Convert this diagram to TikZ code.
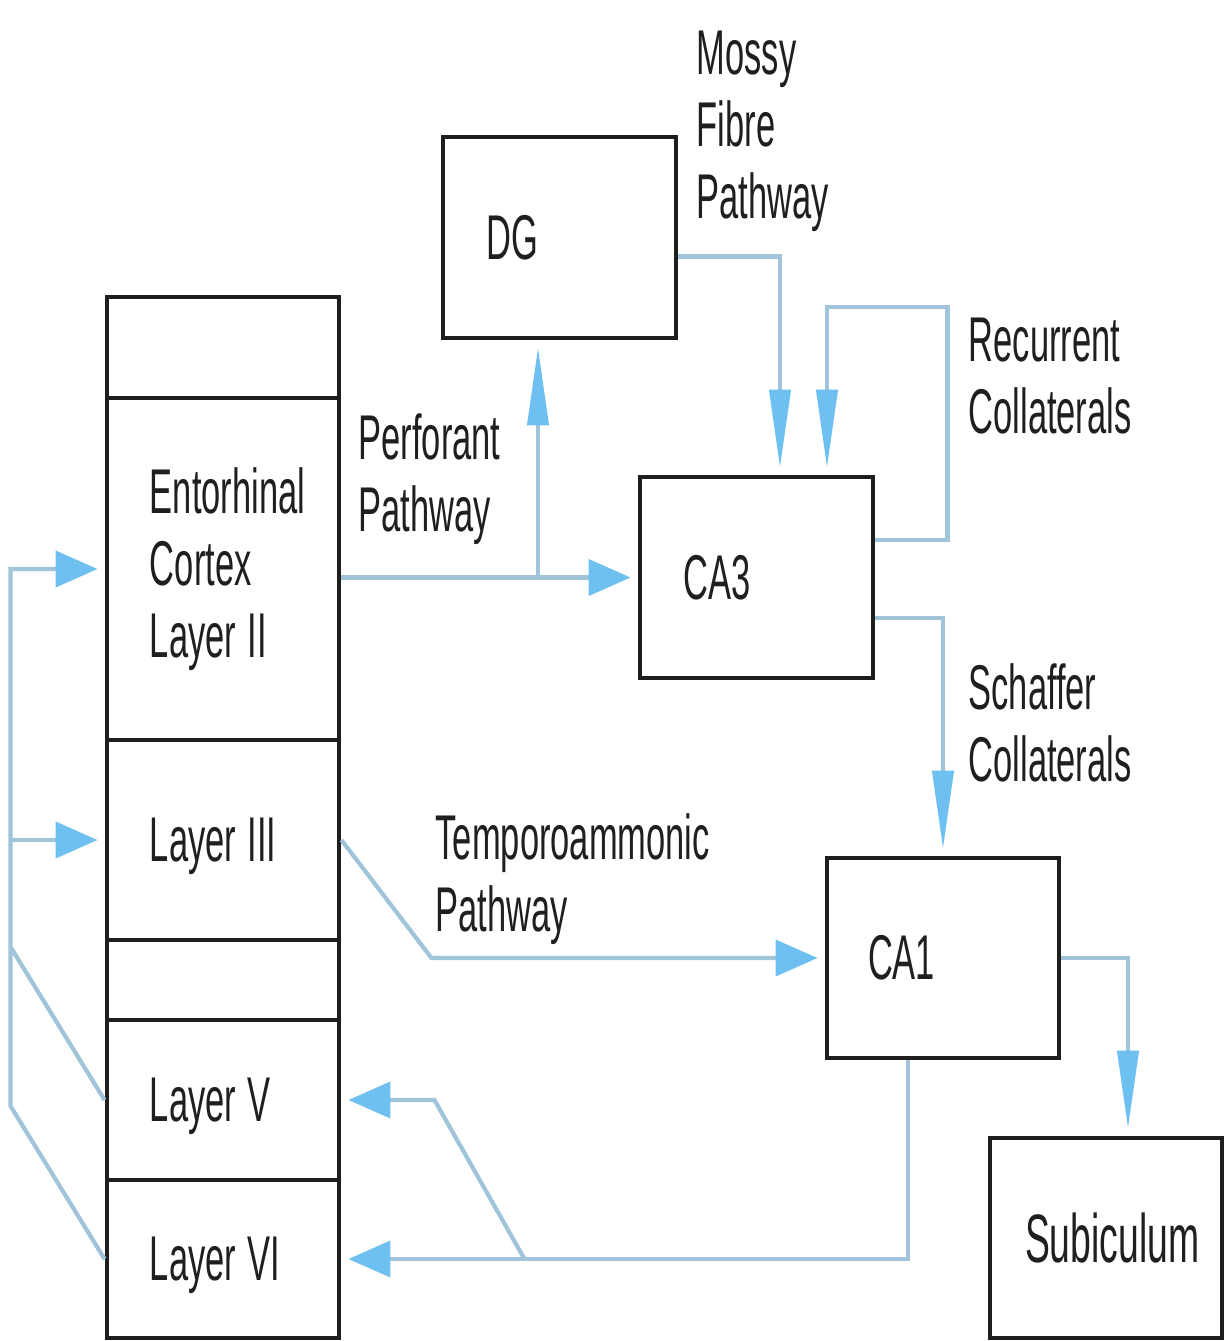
\documentclass[tikz,border=0pt]{standalone}
\usepackage{fontspec}
\setmainfont{Liberation Sans}
\usepackage{graphicx}
\usetikzlibrary{arrows.meta}
\definecolor{pathline}{RGB}{160,196,218}
\definecolor{pathhead}{RGB}{110,192,240}
\definecolor{boxline}{RGB}{30,30,30}
\newcommand{\slim}[1]{\scalebox{0.545}[1]{#1}}

\begin{document}
\begin{tikzpicture}[every node/.style={font=\fontsize{18}{20.5}\selectfont, text=black!88},
  region/.style={draw=boxline, line width=1.4pt, minimum width=2.32cm, text width=1.46cm, inner xsep=0.43cm, inner ysep=0pt, align=left},
  layer/.style={region, text depth=0pt},
  note/.style={inner sep=0pt, align=left, anchor=north west},
  flow/.style={draw=pathline, line width=1.2pt},
  hflow/.style={flow, shorten >=0.07cm, -{Triangle[length=0.42cm, width=0.36cm, color=pathhead]}},
  vflow/.style={flow, shorten >=0.07cm, -{Triangle[length=0.78cm, width=0.21cm, color=pathhead]}}]
\useasboundingbox (0,0) rectangle (12.24,-13.41);

% Entorhinal column
\node[region, minimum height=1.01cm] (ectop) at (2.23,-3.475) {};
\node[region, minimum height=3.42cm] (ec2) at (2.23,-5.69) {\slim{Entorhinal}\\\slim{Cortex}\\\slim{Layer II}};
\node[layer, minimum height=2.00cm] (ec3) at (2.23,-8.40) {\slim{Layer III}};
\node[region, minimum height=0.80cm] (ecgap) at (2.23,-9.80) {};
\node[layer, minimum height=1.60cm] (ec5) at (2.23,-11.00) {\slim{Layer V}};
\node[layer, minimum height=1.58cm] (ec6) at (2.23,-12.59) {\slim{Layer VI}};

% Hippocampal regions
\node[region, minimum width=2.33cm, minimum height=2.01cm] (dg) at (5.595,-2.375) {\slim{DG}};
\node[region, minimum width=2.33cm, minimum height=2.01cm] (ca3) at (7.565,-5.775) {\slim{CA3}};
\node[region, minimum height=2.00cm, inner xsep=0.41cm, text width=1.50cm] (ca1) at (9.43,-9.58) {\slim{CA1}};
\node[region, minimum height=2.00cm, inner xsep=0.35cm, text width=1.62cm, font=\fontsize{19.5}{22}\selectfont] (sub) at (11.06,-12.38) {\slim{Subiculum}};

% Pathway labels
\node[note] (perforant) at (3.58,-4.13) {\slim{Perforant}\\\slim{Pathway}};
\node[note] (mossy) at (6.96,-0.30) {\slim{Mossy}\\\slim{Fibre}\\\slim{Pathway}};
\node[note] (recurrent) at (9.68,-3.17) {\slim{Recurrent}\\\slim{Collaterals}};
\node[note] (schaffer) at (9.68,-6.63) {\slim{Schaffer}\\\slim{Collaterals}};
\node[note] (temporo) at (4.35,-8.13) {\slim{Temporoammonic}\\\slim{Pathway}};

% Arrows
\draw[hflow] (ec2.east |- ca3.west) -- (ca3.west);
\draw[vflow] ([xshift=-0.215cm]dg.south |- ca3.west) -- ([xshift=-0.215cm]dg.south);
\draw[vflow] ([yshift=-0.19cm]dg.east) -| ([xshift=0.235cm]ca3.north);
\draw[vflow] ([yshift=0.375cm]ca3.east) -- ++(0.72,0) -- ++(0,2.33) -| ([xshift=0.705cm]ca3.north);
\draw[vflow] ([yshift=-0.405cm]ca3.east) -| (ca1.north);
\draw[hflow] (ec3.east) -- ([xshift=0.9cm]ec3.east |- ca1.west) -- (ca1.west);
\draw[vflow] (ca1.east) -| ([xshift=0.22cm]sub.north);
\draw[hflow] ([xshift=-0.35cm]ca1.south) |- (ec6.east);
\draw[hflow] ([xshift=1.83cm]ec6.east) -- ([xshift=0.93cm]ec5.east) -- (ec5.east);
\draw[hflow] (ec6.west) -- ++(-0.94,1.53) coordinate (rail) |- (ec2.west);
\draw[flow] (ec5.west) -- ++(-0.94,1.53);
\draw[hflow] (rail |- ec3.west) -- (ec3.west);
\end{tikzpicture}
\end{document}
